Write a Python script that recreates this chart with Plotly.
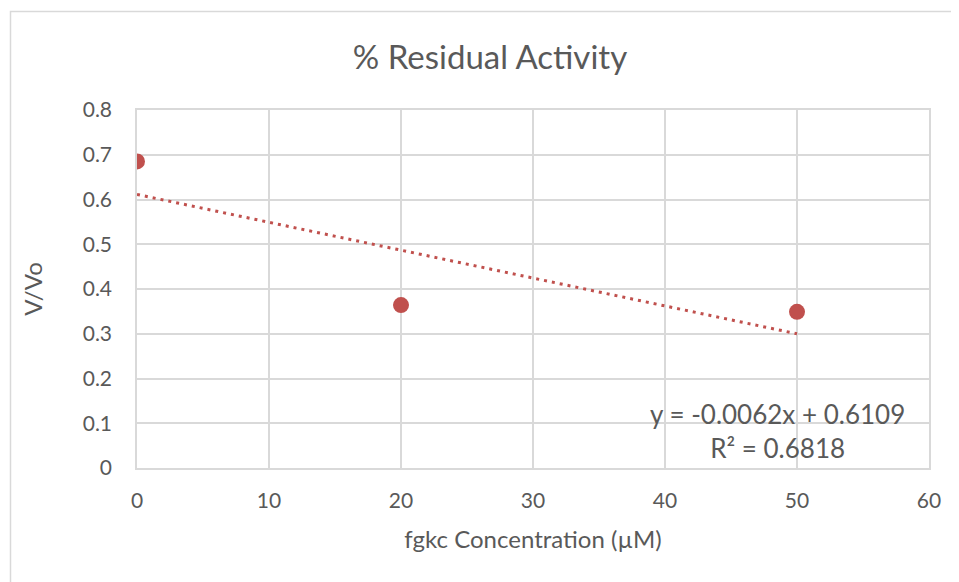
import numpy as np
import plotly.graph_objects as go

conc = [0, 20, 50]
v_vo = [0.685, 0.364, 0.349]
x_ticks = [0, 10, 20, 30, 40, 50, 60]
y_ticks = [0, 0.1, 0.2, 0.3, 0.4, 0.5, 0.6, 0.7, 0.8]
y_tick_labels = ["0", "0.1", "0.2", "0.3", "0.4", "0.5", "0.6", "0.7", "0.8"]
eq_text = "y = -0.0062x + 0.6109<br>R² = 0.6818"

FONT = "Lato"
GREY = "#595959"
RED = "#c0504d"
GRID = "#d9d9d9"

slope, intercept = np.polyfit(conc, v_vo, 1)
tx = [min(conc), max(conc)]
ty = [slope * v + intercept for v in tx]

fig = go.Figure()
fig.add_trace(go.Scatter(x=tx, y=ty, mode="lines",
                         line=dict(color=RED, width=3, dash="3px,5px"),
                         hoverinfo="skip", showlegend=False))
fig.add_trace(go.Scatter(x=conc, y=v_vo, mode="markers",
                         marker=dict(color=RED, size=16),
                         showlegend=False))

OFF = 8  # page body margin
W, H = 959, 582
L, R, T, B = 137, 30, 110, 114
FW, FH = W - OFF, H - OFF
ml, mt = L - OFF, T - OFF
pw, ph = W - L - R, H - T - B

def px_x(p):
    return (p - L) / pw

def px_y(p):
    return (H - B - p) / ph

fig.add_shape(type="rect", xref="paper", yref="paper",
              x0=px_x(10.5), x1=px_x(975), y0=px_y(600), y1=px_y(11.5),
              line=dict(color=GRID, width=1.5), layer="below")

fig.add_annotation(xref="x", yref="y", x=48.56, y=0.083, text=eq_text,
                   showarrow=False, align="center",
                   font=dict(family=FONT, size=26, color=GREY))

fig.update_layout(
    width=FW, height=FH,
    margin=dict(l=ml, r=R, t=mt, b=B),
    paper_bgcolor="white", plot_bgcolor="white",
    title=dict(text="% Residual Activity", x=(490 - OFF) / FW, xanchor="center",
               y=1 - (57 - OFF) / FH, yanchor="middle", xref="container", yref="container",
               font=dict(family=FONT, size=33, color=GREY)),
    font=dict(family=FONT, color=GREY),
    xaxis=dict(range=[0, 60], tickvals=x_ticks, showgrid=True, gridcolor=GRID,
               gridwidth=1.5, zeroline=False, showline=True, linecolor=GRID,
               linewidth=1.5, mirror=True, ticks="", ticklabelstandoff=13,
               tickfont=dict(family=FONT, size=21, color=GREY),
               title=dict(text="fgkc Concentration (µM)", standoff=20,
                          font=dict(family=FONT, size=24, color=GREY))),
    yaxis=dict(range=[0, 0.8], tickvals=y_ticks, ticktext=y_tick_labels,
               showgrid=True, gridcolor=GRID, gridwidth=1.5, zeroline=False,
               showline=True, linecolor=GRID, linewidth=1.5, mirror=True,
               ticks="", ticklabelstandoff=19,
               tickfont=dict(family=FONT, size=21, color=GREY),
               title=dict(text="V/Vo", standoff=33,
                          font=dict(family=FONT, size=24, color=GREY))),
)

fig.write_html("out.html")
